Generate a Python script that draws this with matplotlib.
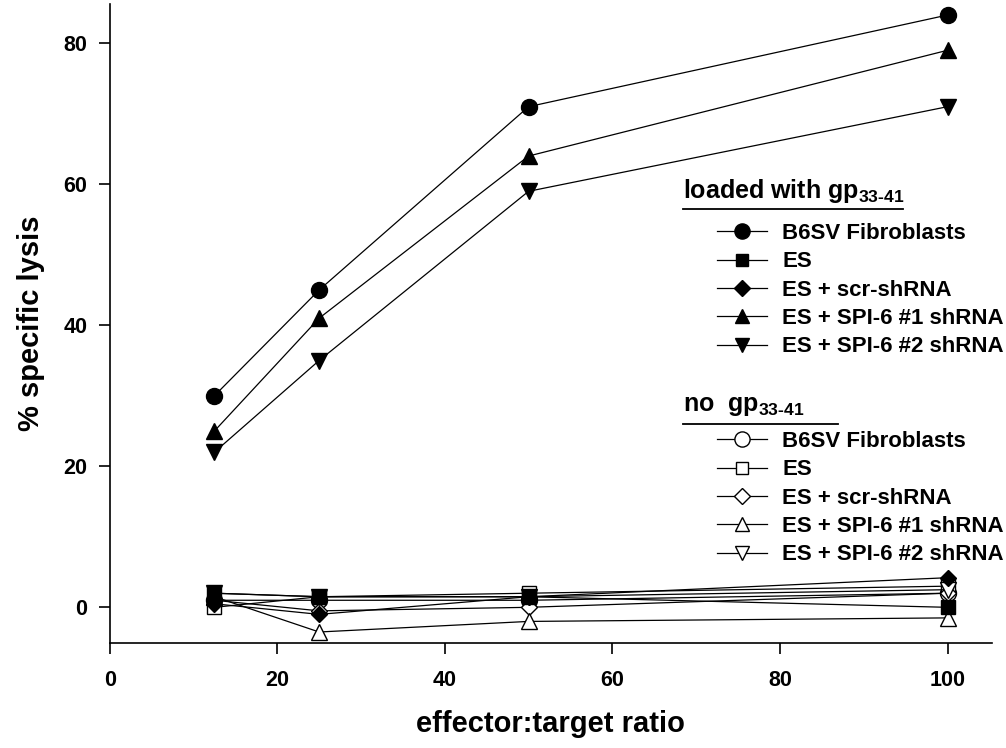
# LIBRARIES IMPORT

import numpy as np
import matplotlib.pyplot as plt
from matplotlib.lines import Line2D

plt.rcParams['font.family'] = ['Liberation Sans', 'DejaVu Sans']
plt.rcParams['font.weight'] = 'bold'
plt.rcParams['mathtext.fontset'] = 'custom'
plt.rcParams['mathtext.rm'] = 'Liberation Sans:bold'
plt.rcParams['mathtext.bf'] = 'Liberation Sans:bold'
plt.rcParams['mathtext.default'] = 'bf'

# DATA

ratio = [12.5, 25, 50, 100]
labels = ['B6SV Fibroblasts', 'ES', 'ES + scr-shRNA',
          'ES + SPI-6 #1 shRNA', 'ES + SPI-6 #2 shRNA']
markers = ['o', 's', 'D', '^', 'v']

# loaded with gp33-41 (filled markers)
loaded_b6sv = [30, 45, 71, 84]
loaded_es = [2, 1.5, 1.5, 0]
loaded_scr = [0.5, -1, 1.5, 4.2]
loaded_spi1 = [25, 41, 64, 79]
loaded_spi2 = [22, 35, 59, 71]

# no gp33-41 (open markers)
no_b6sv = [1, 1, 1, 2]
no_es = [0, 1.5, 2, 3]
no_scr = [1, -0.5, 0, 2]
no_spi1 = [1.5, -3.5, -2, -1.5]
no_spi2 = [2, 1.5, 1.5, 2.5]

loaded = [loaded_b6sv, loaded_es, loaded_scr, loaded_spi1, loaded_spi2]
unloaded = [no_b6sv, no_es, no_scr, no_spi1, no_spi2]

# FIGURE

fig = plt.figure(figsize=(10.06, 7.48), dpi=100)
ax = fig.add_axes([0.109, 0.140, 0.877, 0.855])

ms = {'o': 11.5, 's': 9.5, 'D': 8.5, '^': 11, 'v': 11}

# open series first, filled ones on top
for vals, m in zip(unloaded, markers):
    ax.plot(ratio, vals, color='black', lw=0.9, marker=m, ms=ms[m],
            mfc='white', mec='black', mew=1.0)
for vals, m in zip(loaded, markers):
    ax.plot(ratio, vals, color='black', lw=0.9, marker=m, ms=ms[m],
            mfc='black', mec='black', mew=1.0)

ax.set_xlim(0, 105.3)
ax.set_ylim(-5.1, 85.6)
ax.set_xticks([0, 20, 40, 60, 80, 100])
ax.set_yticks([0, 20, 40, 60, 80])
ax.tick_params(direction='out', length=8, width=1.2, labelsize=15.5)
ax.tick_params(axis='x', pad=11)
ax.tick_params(axis='y', pad=8)
for lab in ax.get_xticklabels() + ax.get_yticklabels():
    lab.set_fontweight('bold')
for s in ['top', 'right']:
    ax.spines[s].set_visible(False)
for s in ['left', 'bottom']:
    ax.spines[s].set_linewidth(1.2)

ax.set_xlabel('effector:target ratio', fontsize=21, fontweight='bold', labelpad=14)
ax.set_ylabel('% specific lysis', fontsize=21, fontweight='bold', labelpad=13)

# Legends
def handles(filled):
    return [Line2D([], [], color='black', lw=0.9, marker=m, ms=ms[m] * 0.95,
                   mfc='black' if filled else 'white', mec='black', mew=1.0)
            for m in markers]

leg_kw = dict(frameon=False, handlelength=2.25, handletextpad=0.68,
              labelspacing=0.33, borderpad=0, borderaxespad=0, loc='upper left',
              bbox_transform=fig.transFigure, prop={'weight': 'bold', 'size': 16})
leg1 = ax.legend(handles(True), labels, bbox_to_anchor=(717 / 1006, 1 - 223 / 748), **leg_kw)
ax.add_artist(leg1)
leg2 = ax.legend(handles(False), labels, bbox_to_anchor=(717 / 1006, 1 - 431 / 748), **leg_kw)

fig.text(683 / 1006, 1 - 198 / 748, r'loaded with gp$_{33\text{-}41}$', fontsize=18,
         fontweight='bold', ha='left', va='baseline')
fig.add_artist(Line2D([683 / 1006, 903 / 1006], [1 - 209 / 748] * 2,
                      transform=fig.transFigure, color='black', lw=1.3))
fig.text(683 / 1006, 1 - 411 / 748, r'no  gp$_{33\text{-}41}$', fontsize=18,
         fontweight='bold', ha='left', va='baseline')
fig.add_artist(Line2D([683 / 1006, 838 / 1006], [1 - 424 / 748] * 2,
                      transform=fig.transFigure, color='black', lw=1.3))

fig.savefig('out.png', dpi=100)
